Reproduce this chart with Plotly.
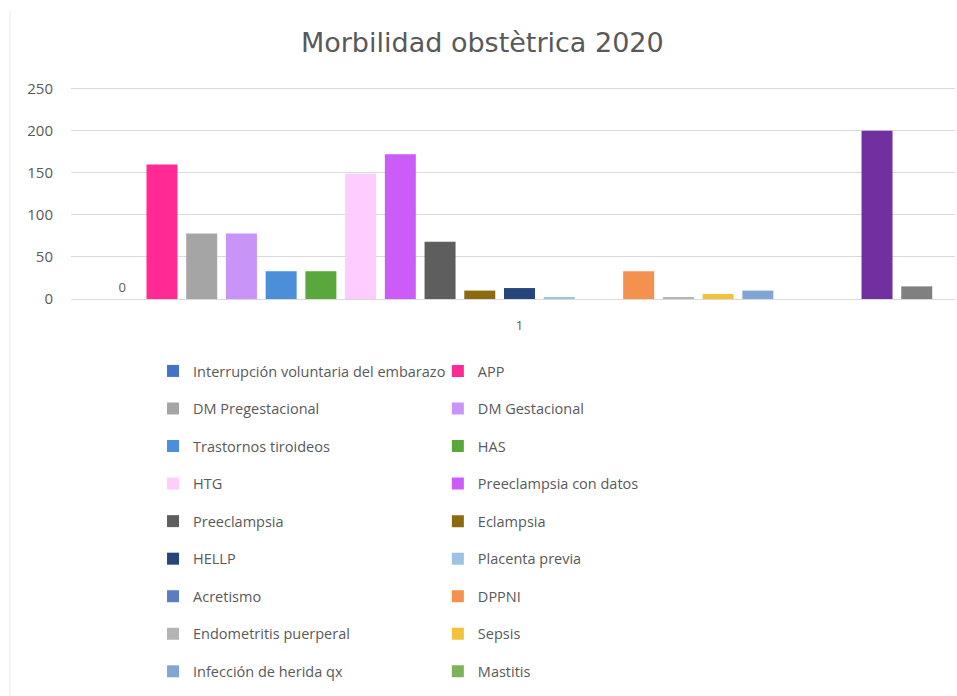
import plotly.graph_objects as go

# Morbilidad obstétrica 2020: one category, one bar per diagnosis
category = ["1"]
series_names = [
    "Interrupción voluntaria del embarazo", "APP",
    "DM Pregestacional", "DM Gestacional",
    "Trastornos tiroideos", "HAS",
    "HTG", "Preeclampsia con datos",
    "Preeclampsia", "Eclampsia",
    "HELLP", "Placenta previa",
    "Acretismo", "DPPNI",
    "Endometritis puerperal", "Sepsis",
    "Infección de herida qx", "Mastitis",
    "Serie 19", "Serie 20", "Serie 21",
]
series_values = [0, 160, 78, 78, 33, 33, 149, 172, 68, 10, 13, 2,
                 0, 33, 2, 6, 10, 0, 0, 200, 15]
series_colors = [
    "#4472C4", "#FF2A93", "#A5A5A5", "#C894F7", "#4A8FD8", "#58A83C",
    "#FFCCFF", "#CC5CF7", "#5E5E5E", "#8C6A10", "#24467A", "#9CC3E6",
    "#5A7DC0", "#F4914E", "#B4B4B4", "#F2C23A", "#7FA6D4", "#7CB35C",
    "#D9D9D9", "#7030A0", "#808080",
]
legend_rows = 18  # entries listed in the two legend columns
y_ticks = [0, 50, 100, 150, 200, 250]

fig = go.Figure()
for i, (name, val, col) in enumerate(zip(series_names, series_values, series_colors)):
    show = i < legend_rows
    fig.add_trace(go.Bar(
        x=category, y=[val], name=name,
        marker=dict(color=col, line=dict(width=0)),
        legend="legend" if i % 2 == 0 else "legend2",
        legendgroup=name,
        showlegend=show,
        text=[val] if i == 0 else None,
        textposition="outside" if i == 0 else None,
        textfont=dict(family="Open Sans, sans-serif", size=13, color="#595959"),
        cliponaxis=False,
    ))

plot_h = 212  # px between the top and bottom margins
legend_style = dict(
    orientation="v", yanchor="top", y=-56 / plot_h, xanchor="left",
    font=dict(family="Open Sans, sans-serif", size=14.5, color="#595959"),
    bgcolor="rgba(0,0,0,0)", tracegroupgap=15.7, itemclick=False,
)

fig.update_layout(
    width=957, height=696,
    margin=dict(l=71, r=2, t=87, b=397, autoexpand=False),
    paper_bgcolor="white", plot_bgcolor="white",
    barmode="group", bargap=0.07, bargroupgap=0.22,
    title=dict(
        text="Morbilidad obstètrica 2020",
        x=0.504, xanchor="center", y=1 - 43 / 696, yanchor="middle",
        yref="container",
        font=dict(family="DejaVu Sans, sans-serif", size=27, color="#595959"),
    ),
    xaxis=dict(
        type="category", range=[-0.5, 0.4855],
        showgrid=False, showline=True, linecolor="#D9D9D9", linewidth=1,
        ticks="", ticklabelstandoff=14,
        tickfont=dict(family="Open Sans, sans-serif", size=13, color="#595959"),
        fixedrange=True,
    ),
    yaxis=dict(
        range=[0, 252], tickvals=y_ticks,
        showgrid=True, gridcolor="#D9D9D9", gridwidth=1,
        zeroline=False, showline=False, ticks="", ticklabelstandoff=17,
        tickfont=dict(family="Open Sans, sans-serif", size=15, color="#595959"),
        fixedrange=True,
    ),
    legend=dict(legend_style, x=0.0928),
    legend2=dict(legend_style, x=0.415),
    shapes=[dict(
        type="line", xref="paper", yref="paper",
        x0=-61 / 884, x1=-61 / 884, y0=-397 / plot_h, y1=(299 - 10) / plot_h,
        line=dict(color="#EBEBEB", width=1),
    )],
)

fig.write_html("out.html")
